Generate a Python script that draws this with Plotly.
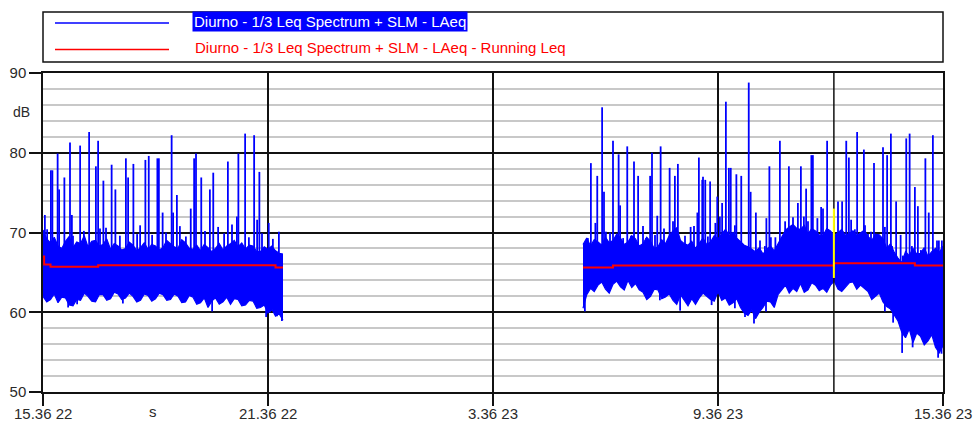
import plotly.graph_objects as go

# ---------------------------------------------------------------------------
# Data: LAeq time history, hours elapsed since 15.36 on day 22
# ---------------------------------------------------------------------------
tick_hours = [0, 6, 12, 18, 24]
tick_labels = ["15.36 22", "21.36 22", "3.36 23", "9.36 23", "15.36 23"]

# First recording block: envelope of the dense 1 s LAeq trace (every 0.1 h)
seg1_hours = [0.0, 0.1, 0.2, 0.3, 0.4, 0.5, 0.6, 0.7, 0.8, 0.9, 1.0, 1.1, 1.2,
              1.3, 1.4, 1.5, 1.6, 1.7, 1.8, 1.9, 2.0, 2.1, 2.2, 2.3, 2.4, 2.5,
              2.6, 2.7, 2.8, 2.9, 3.0, 3.1, 3.2, 3.3, 3.4, 3.5, 3.6, 3.7, 3.8,
              3.9, 4.0, 4.1, 4.2, 4.3, 4.4, 4.5, 4.6, 4.7, 4.8, 4.9, 5.0, 5.1,
              5.2, 5.3, 5.4, 5.5, 5.6, 5.7, 5.8, 5.9, 6.0, 6.1, 6.2, 6.3, 6.4]
seg1_upper = [70.3, 69.2, 68.7, 69.4, 68.3, 68.0, 68.9, 69.5, 68.1, 68.8, 68.6,
              69.6, 68.2, 68.9, 69.0, 68.3, 68.5, 69.2, 67.9, 68.6, 68.3, 67.8,
              68.0, 68.8, 68.4, 67.7, 68.1, 68.7, 67.9, 68.5, 68.3, 67.8, 68.1,
              69.0, 68.6, 68.2, 68.0, 69.1, 68.7, 68.0, 67.9, 68.4, 67.7, 68.5,
              68.1, 67.6, 68.0, 68.6, 67.8, 68.3, 68.6, 69.0, 68.2, 68.7, 67.9,
              68.4, 68.3, 67.6, 67.6, 68.2, 67.9, 68.3, 67.7, 67.4, 67.3]
seg1_lower = [62.0, 61.3, 61.6, 62.3, 61.2, 61.9, 61.8, 60.9, 60.8, 61.6, 61.5,
              62.4, 62.0, 61.4, 61.3, 62.2, 62.2, 61.5, 61.7, 62.5, 62.3, 61.6,
              61.8, 62.4, 62.0, 61.3, 61.5, 62.3, 62.1, 61.4, 61.7, 62.4, 62.2,
              61.5, 61.6, 62.3, 62.0, 61.2, 61.3, 62.1, 61.9, 61.0, 61.2, 61.8,
              60.6, 61.4, 61.8, 61.0, 61.3, 61.9, 61.0, 61.7, 61.6, 60.8, 60.9,
              61.5, 61.4, 60.5, 60.6, 60.9, 59.9, 60.4, 59.5, 59.8, 59.0]

# Second recording block
seg2_hours = [14.4, 14.5, 14.6, 14.7, 14.8, 14.9, 15.0, 15.1, 15.2, 15.3, 15.4,
              15.5, 15.6, 15.7, 15.8, 15.9, 16.0, 16.1, 16.2, 16.3, 16.4, 16.5,
              16.6, 16.7, 16.8, 16.9, 17.0, 17.1, 17.2, 17.3, 17.4, 17.5, 17.6,
              17.7, 17.8, 17.9, 18.0, 18.1, 18.2, 18.3, 18.4, 18.5, 18.6, 18.7,
              18.8, 18.9, 19.0, 19.1, 19.2, 19.3, 19.4, 19.5, 19.6, 19.7, 19.8,
              19.9, 20.0, 20.1, 20.2, 20.3, 20.4, 20.5, 20.6, 20.7, 20.8, 20.9,
              21.0, 21.1, 21.2, 21.3, 21.4, 21.5, 21.6, 21.7, 21.8, 21.9, 22.0,
              22.1, 22.2, 22.3, 22.4, 22.5, 22.6, 22.7, 22.8, 22.9, 23.0, 23.1,
              23.2, 23.3, 23.4, 23.5, 23.6, 23.7, 23.8, 23.9, 24.0]
seg2_upper = [68.5, 69.3, 68.3, 69.1, 68.8, 68.4, 69.4, 68.7, 69.0, 69.8, 69.3,
              68.5, 68.8, 69.6, 69.2, 68.3, 68.6, 69.4, 68.9, 68.0, 68.2, 69.1,
              68.6, 69.6, 70.2, 70.6, 69.0, 68.6, 68.4, 68.9, 68.0, 68.7, 69.3,
              68.5, 68.8, 69.6, 69.2, 69.8, 70.4, 69.6, 70.0, 69.3, 68.9, 68.4,
              68.2, 67.9, 67.6, 68.1, 67.3, 67.9, 68.3, 67.7, 68.6, 69.5, 70.3,
              70.7, 71.0, 70.5, 70.4, 70.9, 69.8, 70.5, 70.2, 69.7, 69.6, 70.5,
              70.2, 69.6, 70.0, 70.4, 69.6, 69.9, 70.2, 69.6, 69.9, 70.3, 69.5,
              69.0, 69.8, 69.7, 69.2, 68.0, 68.6, 67.5, 66.8, 66.2, 67.6, 67.1,
              68.0, 67.3, 67.4, 68.1, 67.0, 67.6, 68.0, 67.5, 68.3]
seg2_lower = [60.5, 62.2, 63.0, 62.6, 63.4, 63.8, 62.9, 62.4, 63.5, 63.9, 63.2,
              62.8, 64.0, 63.1, 63.6, 62.8, 62.5, 61.6, 62.0, 62.9, 62.8, 61.7,
              61.9, 62.3, 61.5, 61.0, 62.2, 61.5, 60.8, 61.7, 61.0, 61.8, 62.4,
              62.0, 61.6, 61.4, 62.6, 61.5, 61.8, 60.9, 61.2, 61.7, 60.6, 59.9,
              59.6, 60.3, 59.2, 60.0, 60.6, 61.4, 61.3, 60.6, 62.2, 62.8, 63.4,
              62.4, 63.0, 62.6, 63.6, 62.5, 62.8, 63.7, 63.4, 62.7, 63.0, 62.5,
              63.4, 63.9, 62.9, 62.6, 63.2, 63.7, 63.8, 62.9, 63.4, 63.0, 62.6,
              61.6, 62.0, 62.4, 61.3, 60.7, 60.4, 59.6, 58.9, 57.5, 56.8, 57.9,
              56.2, 57.4, 57.0, 55.9, 56.4, 57.2, 55.6, 54.9, 55.8]

# Noise events rising above the band (time, peak level)
peak_hours = [0.05, 0.11, 0.21, 0.25, 0.39, 0.43, 0.57, 0.72, 0.77, 0.80, 0.99,
              1.09, 1.23, 1.41, 1.47, 1.52, 1.61, 1.68, 1.83, 1.93, 2.05, 2.21,
              2.27, 2.41, 2.51, 2.59, 2.73, 2.82, 2.91, 3.05, 3.09, 3.19, 3.28,
              3.43, 3.47, 3.57, 3.65, 3.81, 3.94, 4.03, 4.08, 4.22, 4.32, 4.45,
              4.54, 4.67, 4.83, 4.93, 5.04, 5.17, 5.21, 5.39, 5.49, 5.63, 5.71,
              5.77, 5.84, 6.02, 6.13, 6.29,
              14.53, 14.61, 14.73, 14.78, 14.91, 14.96, 15.01, 15.12, 15.20,
              15.35, 15.39, 15.47, 15.58, 15.68, 15.76, 15.87, 16.00, 16.08,
              16.19, 16.24, 16.32, 16.38, 16.47, 16.56, 16.71, 16.80, 16.85,
              16.93, 17.12, 17.27, 17.36, 17.45, 17.49, 17.58, 17.60, 17.66,
              17.73, 17.79, 17.87, 17.93, 17.98, 18.05, 18.11, 18.21, 18.29,
              18.34, 18.45, 18.49, 18.62, 18.82, 18.87, 19.01, 19.12, 19.25,
              19.29, 19.37, 19.41, 19.53, 19.65, 19.79, 19.89, 20.00, 20.13,
              20.21, 20.29, 20.35, 20.40, 20.49, 20.53, 20.65, 20.75, 20.80,
              20.91, 21.20, 21.31, 21.42, 21.49, 21.55, 21.65, 21.71, 21.89,
              21.92, 22.00, 22.08, 22.16, 22.27, 22.40, 22.45, 22.51, 22.61,
              22.64, 22.75, 22.87, 22.93, 23.02, 23.11, 23.17, 23.25, 23.33,
              23.41, 23.53, 23.62, 23.73, 23.84, 23.89, 23.97]
peak_db = [72.2, 70.4, 77.8, 77.8, 79.9, 75.4, 76.9, 81.3, 72.2, 69.6, 80.9,
           70.2, 82.6, 78.3, 81.5, 70.5, 76.5, 70.6, 78.5, 75.4, 69.6, 79.3,
           76.9, 78.6, 69.8, 70.9, 79.1, 79.6, 69.7, 79.3, 79.3, 72.5, 70.0,
           82.2, 72.5, 74.7, 70.8, 69.5, 73.0, 79.3, 79.9, 76.9, 70.2, 75.4,
           77.5, 70.7, 69.9, 78.9, 71.0, 72.0, 79.9, 82.4, 69.4, 82.2, 71.6,
           77.6, 69.9, 71.2, 69.2, 70.1,
           69.3, 78.7, 71.2, 77.1, 85.7, 75.1, 70.1, 70.0, 81.5,
           79.8, 73.4, 69.3, 80.8, 69.6, 78.9, 77.1, 70.8, 69.3,
           77.1, 80.0, 69.7, 72.1, 80.8, 70.5, 78.1, 71.4, 77.1,
           78.6, 69.6, 70.7, 70.8, 72.5, 79.4, 76.6, 77.0, 76.6,
           69.5, 76.4, 68.9, 71.2, 74.5, 72.0, 73.7, 86.4, 78.1,
           78.1, 70.9, 77.3, 77.1, 88.8, 75.1, 72.5, 69.0, 68.3,
           71.8, 78.3, 69.4, 69.4, 81.5, 71.4, 78.3, 71.9, 73.7,
           78.3, 72.0, 75.5, 71.4, 79.7, 79.7, 71.8, 73.2, 73.0,
           81.5, 73.9, 73.9, 81.5, 79.4, 71.6, 70.4, 82.6, 80.4,
           70.9, 69.8, 70.1, 78.7, 69.5, 80.7, 70.7, 79.7, 82.4,
           68.3, 73.9, 69.7, 67.1, 81.8, 82.4, 68.3, 75.7, 73.3,
           67.8, 79.3, 72.5, 82.2, 69.0, 69.0, 69.0]

# Quiet moments dropping below the band (time, minimum level)
dip_hours = [0.67, 0.91, 2.13, 4.51, 5.95, 6.05, 6.24, 6.37,
             14.45, 16.45, 16.99, 17.83, 18.45, 18.72, 18.96, 19.28, 22.45,
             22.67, 22.91, 23.19, 23.47, 23.87, 23.96]
dip_db = [60.6, 61.0, 61.1, 60.1, 59.4, 60.0, 59.5, 58.9,
          60.1, 61.5, 60.2, 60.9, 60.5, 59.4, 58.6, 60.1, 60.1,
          58.7, 54.9, 55.6, 56.5, 54.3, 54.8]

# Running Leq (stepwise)
run1_hours = [0.0, 0.03, 0.2, 1.47, 6.2, 6.4]
run1_db = [67.0, 66.0, 65.7, 65.9, 65.6, 65.6]
run2_hours = [14.4, 15.2, 21.09, 23.25, 24.0]
run2_db = [65.6, 65.85, 66.15, 65.85, 65.85]

# Cursor position and the level span marked at it
cursor_hour = 21.09
cursor_span_db = [64.3, 73.0]

BLUE = "#0000FF"
RED = "#FF0000"
FONT = "Liberation Sans, Arial, sans-serif"
TEXT_COLOR = "#2a2a2a"

# plot area in pixels (used for placing legend box and labels)
PL, PR, PT, PB = 43, 943, 73, 392


def px_x(px):
    return (px - PL) / (PR - PL)


def px_y(py):
    return (PB - py) / (PB - PT)


fig = go.Figure()

# dense level band
for hrs, lo, up in [(seg1_hours, seg1_lower, seg1_upper),
                    (seg2_hours, seg2_lower, seg2_upper)]:
    fig.add_trace(go.Scatter(x=hrs, y=lo, mode="lines",
                             line=dict(color=BLUE, width=1.2),
                             hoverinfo="skip", showlegend=False))
    fig.add_trace(go.Scatter(x=hrs, y=up, mode="lines", fill="tonexty",
                             fillcolor=BLUE, line=dict(color=BLUE, width=1.2),
                             hoverinfo="skip", showlegend=False))

# spikes and dips drawn as vertical strokes from inside the band
sx, sy = [], []
for t, v in zip(peak_hours, peak_db):
    sx += [t, t, None]
    sy += [66.0, v, None]
for t, v in zip(dip_hours, dip_db):
    sx += [t, t, None]
    sy += [64.0, v, None]
fig.add_trace(go.Scatter(x=sx, y=sy, mode="lines",
                         line=dict(color=BLUE, width=1.8),
                         hoverinfo="skip", showlegend=False))

# cursor line
fig.add_trace(go.Scatter(x=[cursor_hour, cursor_hour], y=[50, 90], mode="lines",
                         line=dict(color="#111111", width=1.5),
                         hoverinfo="skip", showlegend=False))

# running Leq
for hrs, vals in [(run1_hours, run1_db), (run2_hours, run2_db)]:
    fig.add_trace(go.Scatter(x=hrs, y=vals, mode="lines", line_shape="hv",
                             line=dict(color=RED, width=2),
                             hoverinfo="skip", showlegend=False))

# marker at the cursor
fig.add_trace(go.Scatter(x=[cursor_hour, cursor_hour], y=cursor_span_db,
                         mode="lines", line=dict(color="#FFFF00", width=2),
                         hoverinfo="skip", showlegend=False))

# legend box
shapes = [
    dict(type="rect", xref="paper", yref="paper",
         x0=px_x(43), x1=px_x(943), y0=px_y(62), y1=px_y(12),
         line=dict(color="#111111", width=1.5), fillcolor="white"),
    dict(type="line", xref="paper", yref="paper",
         x0=px_x(55), x1=px_x(169), y0=px_y(23), y1=px_y(23),
         line=dict(color=BLUE, width=1.3)),
    dict(type="line", xref="paper", yref="paper",
         x0=px_x(55), x1=px_x(169), y0=px_y(49.5), y1=px_y(49.5),
         line=dict(color=RED, width=1.3)),
]

annotations = [
    dict(text="Diurno - 1/3 Leq Spectrum + SLM - LAeq",
         xref="paper", yref="paper", x=px_x(192), y=px_y(21.5),
         xanchor="left", yanchor="middle", showarrow=False,
         bgcolor=BLUE, borderpad=1,
         font=dict(family=FONT, size=15, color="white")),
    dict(text="Diurno - 1/3 Leq Spectrum + SLM - LAeq - Running Leq",
         xref="paper", yref="paper", x=px_x(193), y=px_y(47.5),
         xanchor="left", yanchor="middle", showarrow=False,
         font=dict(family=FONT, size=15, color=RED)),
    dict(text="dB", xref="paper", yref="paper", x=px_x(21), y=px_y(112),
         xanchor="center", yanchor="middle", showarrow=False,
         font=dict(family=FONT, size=14, color=TEXT_COLOR)),
    dict(text="s", xref="paper", yref="paper", x=px_x(153), y=px_y(412),
         xanchor="center", yanchor="middle", showarrow=False,
         font=dict(family=FONT, size=15, color=TEXT_COLOR)),
]

# time-axis labels, placed just under the tick marks
for h, lab in zip(tick_hours, tick_labels):
    annotations.append(dict(text=lab, xref="x", yref="paper", x=h,
                            y=px_y(413), xanchor="center", yanchor="middle",
                            showarrow=False,
                            font=dict(family=FONT, size=15, color=TEXT_COLOR)))

fig.update_layout(
    width=977, height=425,
    margin=dict(l=PL, r=977 - PR, t=PT, b=425 - PB, pad=0, autoexpand=False),
    paper_bgcolor="white", plot_bgcolor="white",
    showlegend=False,
    shapes=shapes, annotations=annotations,
    font=dict(family=FONT, size=15, color=TEXT_COLOR),
)

fig.update_xaxes(
    range=[0, 24], tickmode="array", tickvals=tick_hours, ticktext=tick_labels,
    showticklabels=False, automargin=False,
    showgrid=True, gridcolor="#111111", gridwidth=1.5,
    zeroline=False, showline=True, mirror=True,
    linecolor="#111111", linewidth=1.5,
    ticks="outside", ticklen=12, tickwidth=1.5, tickcolor="#111111",
)

fig.update_yaxes(
    range=[50, 90], tickmode="linear", tick0=50, dtick=10,
    automargin=False,
    showgrid=True, gridcolor="#111111", gridwidth=1.5,
    minor=dict(dtick=2, tick0=50, showgrid=True, gridcolor="#c8c8c8",
               gridwidth=1.5, ticks=""),
    zeroline=False, showline=True, mirror=True,
    linecolor="#111111", linewidth=1.5,
    ticks="outside", ticklen=12, tickwidth=1.5, tickcolor="#111111",
    tickfont=dict(family=FONT, size=15, color=TEXT_COLOR),
)

fig.write_html("out.html")
